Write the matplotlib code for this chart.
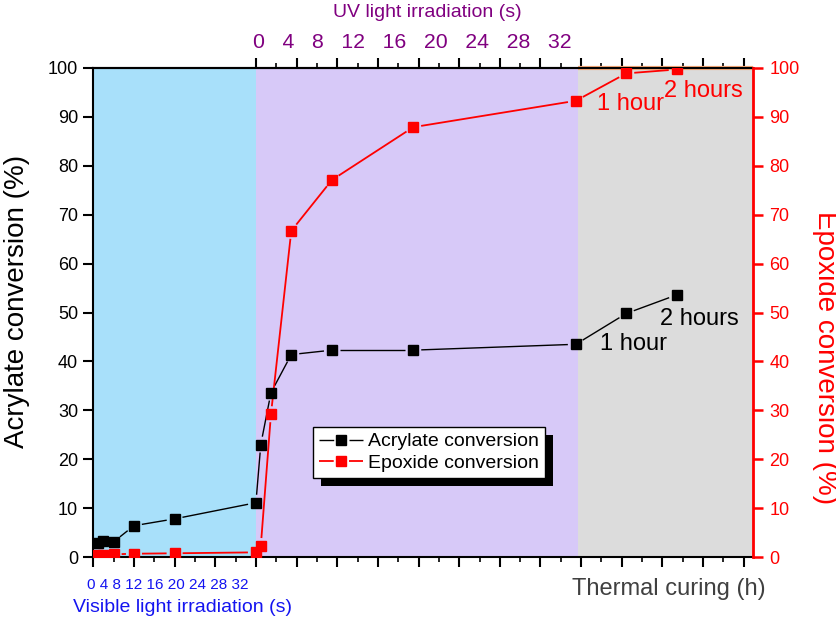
import matplotlib
matplotlib.use('Agg')
import matplotlib.pyplot as plt
import numpy as np
from matplotlib.patches import Rectangle
from matplotlib.lines import Line2D
from matplotlib.transforms import IdentityTransform
from matplotlib.ticker import FixedLocator, MultipleLocator

plt.rcParams['font.family'] = ['Liberation Sans', 'DejaVu Sans']
plt.rcParams['lines.scale_dashes'] = False

# ---------------- data ----------------
vis_time_s = [1, 2, 4, 8, 16, 32]
uv_time_s = [1, 2, 4, 8, 16, 32]
thermal_time_h = [1, 2]

acrylate_vis = [2.9, 3.3, 3.1, 6.4, 7.8, 11.1]
acrylate_uv = [23.0, 33.6, 41.4, 42.3, 42.3, 43.5]
acrylate_thermal = [49.8, 53.6]

epoxide_vis = [0.5, 0.5, 0.55, 0.67, 0.76, 0.95]
epoxide_uv = [2.25, 29.2, 66.7, 77.1, 87.9, 93.3]
epoxide_thermal = [98.9, 99.7]

vis_tick_labels = ['0', '4', '8', '12', '16', '20', '24', '28', '32']
uv_tick_labels = ['0', '4', '8', '12', '16', '20', '24', '28', '32']
y_ticks = list(range(0, 101, 10))
series_labels = ['Acrylate conversion', 'Epoxide conversion']
thermal_labels = ['1 hour', '2 hours']

# ---------------- layout helpers ----------------
W, H = 837, 619
X_MAX = 16.22
VIS_END = 4.0
UV_END = 11.93
MS = 6.8
GAP_PX = 8.0


def x_vis(s):
    return s / 8.0


def x_uv(s):
    return 3.87 + s / 4.0


def x_th(h):
    return 11.87 + 1.24 * h


def fx(px):
    return px / W


def fy(py):
    return 1 - py / H


x_all = [x_vis(s) for s in vis_time_s] + [x_uv(s) for s in uv_time_s] + [x_th(h) for h in thermal_time_h]
acr_all = acrylate_vis + acrylate_uv + acrylate_thermal
epo_all = epoxide_vis + epoxide_uv + epoxide_thermal

fig = plt.figure(figsize=(W / 100, H / 100), dpi=100)
ax = fig.add_axes([93.3 / W, 62 / H, (752.7 - 93.3) / W, 489 / H])
ax.set_xlim(0, X_MAX)
ax.set_ylim(0, 100)

ax.axvspan(0, VIS_END, color='#A8E0FA', zorder=0, lw=0)
ax.axvspan(VIS_END, UV_END, color='#D7C9F8', zorder=0, lw=0)
ax.axvspan(UV_END, X_MAX, color='#DCDCDC', zorder=0, lw=0)
ax.plot([UV_END, X_MAX], [100, 100], color='#F4A878', lw=3, zorder=2.3, clip_on=False,
        solid_capstyle='butt')


def gapped_line(xs, ys, color, lw):
    """Connect points with segments that stop short of the markers (Origin style)."""
    pts = ax.transData.transform(np.column_stack([xs, ys]))
    inv = ax.transData.inverted()
    for p, q in zip(pts[:-1], pts[1:]):
        d = q - p
        L = np.hypot(*d)
        if L <= 2 * GAP_PX + 1:
            continue
        u = d / L
        a = inv.transform(p + u * GAP_PX)
        b = inv.transform(q - u * GAP_PX)
        ax.plot([a[0], b[0]], [a[1], b[1]], color=color, lw=lw, zorder=3,
                solid_capstyle='butt')


gapped_line(x_all, acr_all, 'black', 1.0)
gapped_line(x_all, epo_all, 'red', 1.3)
ax.plot(x_all, acr_all, ls='none', marker='s', ms=MS, color='black', zorder=3.5)
ax.plot(x_all, epo_all, ls='none', marker='s', ms=MS, color='red', zorder=3.5)

# bottom axis ticks
ax.xaxis.set_major_locator(MultipleLocator(1))
ax.xaxis.set_minor_locator(MultipleLocator(0.5))
ax.tick_params(axis='x', which='major', direction='out', length=7, width=1.5, labelbottom=False)
ax.tick_params(axis='x', which='minor', direction='out', length=3.5, width=1.2)
ax.set_yticks(y_ticks)
ax.tick_params(axis='y', direction='out', length=7, width=1.5, labelsize=13, pad=4)
for sp in ['left', 'bottom', 'top']:
    ax.spines[sp].set_linewidth(1.5)
ax.spines['right'].set_visible(False)

# top axis
sec = ax.secondary_xaxis('top')
sec.xaxis.set_major_locator(FixedLocator(list(range(4, 17))))
sec.xaxis.set_minor_locator(FixedLocator([i + 0.5 for i in range(4, 16)]))
sec.tick_params(axis='x', which='major', direction='out', length=7, width=1.5, labeltop=False)
sec.tick_params(axis='x', which='minor', direction='out', length=3.5, width=1.2)
sec.spines['top'].set_linewidth(1.5)

# right axis
ax2 = ax.twinx()
ax2.set_ylim(0, 100)
ax2.set_yticks(y_ticks)
ax2.tick_params(axis='y', colors='red', direction='out', length=7, width=1.8, labelsize=13, pad=5)
for sp in ['left', 'top', 'bottom']:
    ax2.spines[sp].set_visible(False)
ax2.spines['right'].set_color('red')
ax2.spines['right'].set_linewidth(2)

# annotations
ax.text(12.47, 42.3, thermal_labels[0], fontsize=17, color='black', va='baseline', zorder=4)
ax.text(13.94, 47.4, thermal_labels[1], fontsize=17, color='black', va='baseline', zorder=4)
ax.text(12.39, 91.4, thermal_labels[0], fontsize=17, color='red', va='baseline', zorder=4)
ax.text(14.04, 94.1, thermal_labels[1], fontsize=17, color='red', va='baseline', zorder=4)

# axis titles and custom tick strings
fig.text(fx(17), fy(301.5), 'Acrylate conversion (%)', rotation=90, fontsize=20,
         ha='center', va='center')
fig.text(fx(825), fy(357.5), 'Epoxide conversion (%)', rotation=270, fontsize=20,
         ha='center', va='center', color='red')
fig.text(fx(412), fy(42), '   '.join(uv_tick_labels), fontsize=15.3, color='#800080',
         ha='center', va='center')
fig.text(fx(427), fy(12.5), 'UV light irradiation (s)', fontsize=14, color='#800080',
         ha='center', va='center')
fig.text(fx(168), fy(585), ' '.join(vis_tick_labels), fontsize=11, color='#1414F0',
         ha='center', va='center')
fig.text(fx(183), fy(607), 'Visible light irradiation (s)', fontsize=14, color='#1414F0',
         ha='center', va='center')
fig.text(fx(669), fy(589), 'Thermal curing (h)', fontsize=17, color='#404040',
         ha='center', va='center')

# legend with hard shadow; handles show line - gap - marker - gap - line
h1 = Line2D([], [], color='black', lw=1.0, marker='s', ms=MS, dashes=(10.6, 11, 30, 0.1))
h2 = Line2D([], [], color='red', lw=1.3, marker='s', ms=MS, dashes=(10.6, 11, 30, 0.1))
leg = ax.legend(handles=[h1, h2], labels=series_labels, loc='upper left',
                bbox_to_anchor=(0.333, 0.266),
                borderaxespad=0, fontsize=14, handlelength=2.3, handletextpad=0.25,
                borderpad=0.3, labelspacing=0.2, fancybox=False, framealpha=1,
                edgecolor='black', numpoints=1)
leg.get_frame().set_linewidth(1.0)
leg.set_zorder(6)
fig.canvas.draw()
bb = leg.get_window_extent()
ax.add_patch(Rectangle((bb.x0 + 8, bb.y0 - 8), bb.width, bb.height, transform=IdentityTransform(),
                       facecolor='black', edgecolor='none', zorder=5.5, clip_on=False))

fig.savefig('out.png', dpi=100)
